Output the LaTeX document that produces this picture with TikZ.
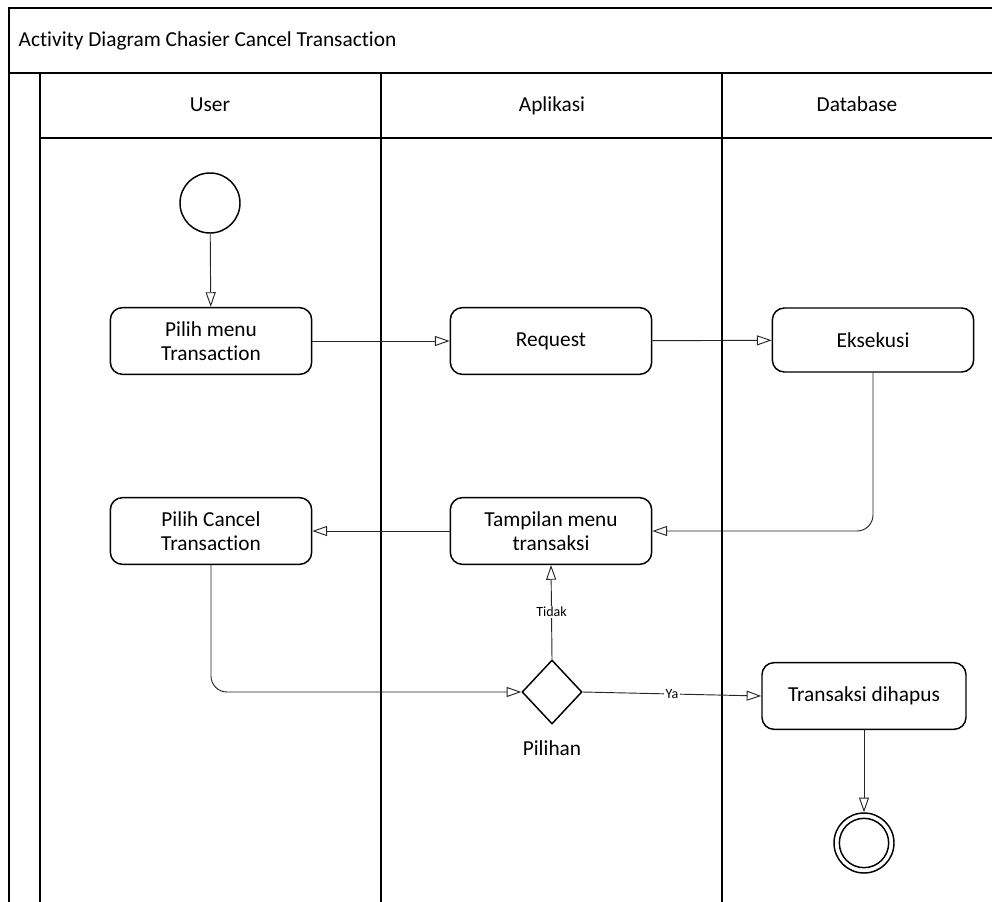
\documentclass[tikz,border=0pt]{standalone}
\usepackage{fontspec}
\setmainfont[Ligatures=NoCommon]{Carlito}
\usetikzlibrary{arrows.meta,shapes.geometric}
\begin{document}
\begin{tikzpicture}[x=0.75pt,y=-0.75pt,
  frame/.style={line width=1.1pt},
  act/.style={draw, line width=1.1pt, rounded corners=9pt, minimum width=151pt, minimum height=50pt, align=center, font=\fontsize{16}{18}\selectfont},
  conn/.style={line width=0.7pt, draw=black!85, -{Triangle[fill=white,length=11pt,width=7.5pt,line width=0.7pt]}},
  lbl/.style={font=\fontsize{16}{18}\selectfont},
  small/.style={font=\fontsize{10.5}{12}\selectfont, fill=white, inner sep=1pt}]
\useasboundingbox (0,0) rectangle (992,902);
% frame and lanes
\draw[frame] (992,8) -- (9,8) -- (9,902);
\draw[frame] (9,73) -- (992,73);
\draw[frame] (40,73) -- (40,902);
\draw[frame] (40,138) -- (992,138);
\draw[frame] (381,73) -- (381,902);
\draw[frame] (722,73) -- (722,902);
\node[lbl, anchor=west] (title) at (14,41) {Activity Diagram Chasier Cancel Transaction};
\node[lbl, anchor=base] (luser) at (210,112) {User};
\node[lbl, anchor=base] (lapp) at (552,112) {Aplikasi};
\node[lbl, anchor=base] (ldb) at (857,112) {Database};
% nodes
\node[circle, draw, line width=1.1pt, minimum size=45pt, inner sep=0pt] (start) at (210,203) {};
\node[act] (menu) at (211,341) {Pilih menu\\Transaction};
\node[act] (req) at (551,341) {Request};
\node[act, minimum height=48pt] (eks) at (873,340) {Eksekusi};
\node[act] (cancel) at (211,531) {Pilih Cancel\\Transaction};
\node[act] (tamp) at (551,531) {Tampilan menu\\transaksi};
\node[diamond, draw, line width=1.1pt, minimum width=45pt, minimum height=48pt, inner sep=0pt] (dec) at (552,692) {};
\node[lbl] (pil) at (552,748) {Pilihan};
\node[act, minimum width=153pt] (hapus) at (864,696) {Transaksi dihapus};
\node[circle, draw, line width=1.1pt, minimum size=45pt, inner sep=0pt] (end) at (864,843) {};
\node[circle, draw, line width=1.1pt, minimum size=37pt, inner sep=0pt] (endin) at (end) {};
% connectors
\draw[conn] (start) -- (menu);
\draw[conn] (menu) -- (req);
\draw[conn] (req) -- (eks);
\draw[conn, rounded corners=12pt] (eks.south) |- (tamp.east);
\draw[conn] (tamp) -- (cancel);
\draw[conn, rounded corners=12pt] (cancel.south) |- (dec.west);
\draw[conn] (dec.north) -- node[small, pos=0.5] {Tidak} (tamp.south);
\draw[conn] (dec.east) -- node[small, pos=0.5] {Ya} (hapus.west);
\draw[conn] (hapus) -- (end);
\end{tikzpicture}
\end{document}
